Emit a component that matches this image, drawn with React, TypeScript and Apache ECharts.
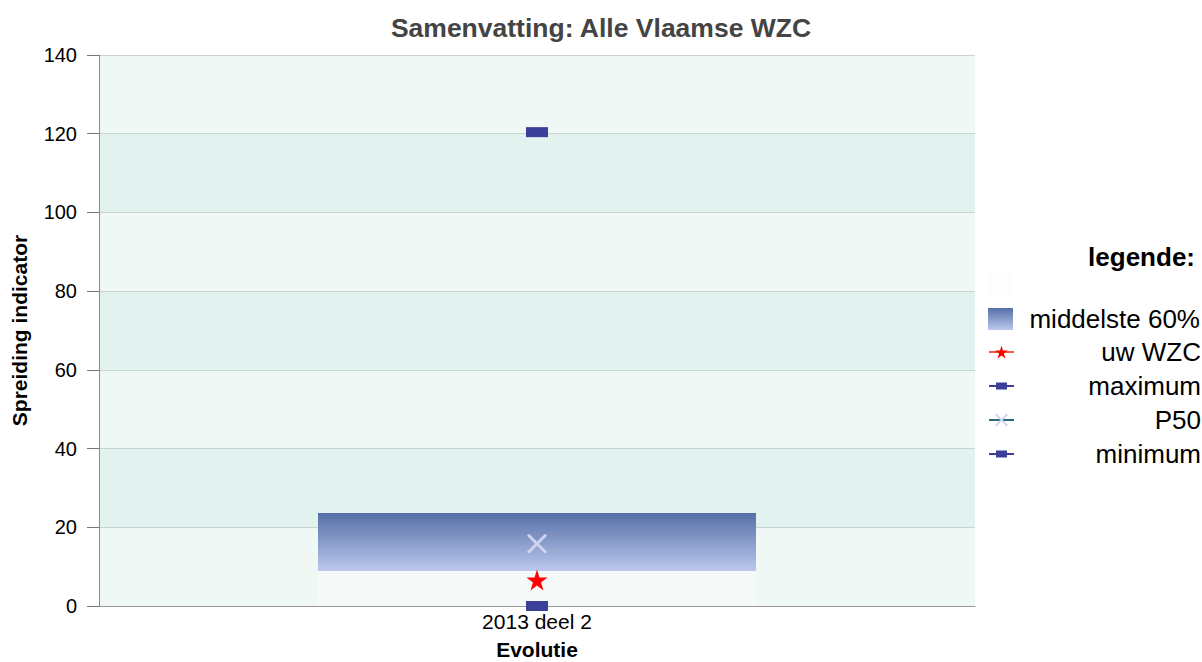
import React, { useEffect, useRef } from "react";
import * as echarts from "echarts";

const categories = ["2013 deel 2"];
const p20 = [8.9];
const p80 = [23.6];
const uwWZC = [6.6];
const maximum = [120.4];
const p50 = [15.8];
const minimum = [0];
const yTicks = { min: 0, max: 140, interval: 20 };

const FONT = "Liberation Sans, Arial, sans-serif";
const xPath = "path://M0,1L1,0L5,4L9,0L10,1L6,5L10,9L9,10L5,6L1,10L0,9L4,5Z";
const rectPath = "path://M0,0H22V10H0Z";
const rectLegendPath = "path://M0,2.5H25V4.5H0Z M7,0H18V7H7Z";
const starPath =
  "path://M50,0L61.8,36.2L100,36.2L69.1,58.8L80.9,95.1L50,72.7L19.1,95.1L30.9,58.8L0,36.2L38.2,36.2Z";

export default function App() {
  const ref = useRef<HTMLDivElement>(null);
  useEffect(() => {
    const chart = echarts.init(ref.current!, null, { renderer: "svg" });
    const mid = p80.map((v, i) => +(v - p20[i]).toFixed(2));
    const legendText = {
      color: "#000",
      fontFamily: FONT,
      rich: {
        a: { width: 182, align: "right", fontSize: 26, fontFamily: FONT, color: "#000" },
      },
    };
    chart.setOption({
      animation: false,
      textStyle: { fontFamily: FONT },
      title: [
        {
          text: "Samenvatting: Alle Vlaamse WZC",
          left: "center",
          top: 9,
          textStyle: { fontSize: 26.5, fontWeight: "bold", color: "#444", fontFamily: FONT },
        },
        {
          text: "legende:",
          right: 7,
          top: 244,
          padding: 0,
          textStyle: { fontSize: 26, fontWeight: "bold", color: "#000", fontFamily: FONT },
        },
      ],
      grid: { left: 99, right: 227, top: 55, bottom: 56, outerBoundsMode: "none", containLabel: false },
      legend: [
        {
          orient: "vertical",
          left: 988,
          top: 270,
          padding: 0,
          itemWidth: 25,
          itemHeight: 22,
          itemGap: 10,
          formatter: (n: string) => `{a|${n}}`,
          textStyle: legendText,
          data: [
            { name: " ", icon: "rect" },
            { name: "middelste 60%", icon: "rect" },
          ],
        },
        {
          orient: "vertical",
          left: 988,
          top: 339,
          padding: 0,
          itemWidth: 25,
          itemHeight: 16,
          itemGap: 8,
          symbolKeepAspect: true,
          formatter: (n: string) => `{a|${n}}`,
          textStyle: legendText,
          data: [
            "uw WZC",
            { name: "maximum", icon: rectLegendPath },
            "P50",
            { name: "minimum", icon: rectLegendPath },
          ],
        },
      ],
      xAxis: {
        type: "category",
        data: categories,
        name: "Evolutie",
        nameLocation: "middle",
        nameGap: 33,
        nameTextStyle: { fontSize: 21, fontWeight: "bold", color: "#000", fontFamily: FONT },
        axisLine: { lineStyle: { color: "#999" } },
        axisTick: { show: false },
        axisLabel: { fontSize: 21, color: "#000", margin: 5, fontFamily: FONT },
      },
      yAxis: {
        type: "value",
        min: yTicks.min,
        max: yTicks.max,
        interval: yTicks.interval,
        name: "Spreiding indicator",
        nameLocation: "middle",
        nameGap: 69,
        nameTextStyle: { fontSize: 21, fontWeight: "bold", color: "#000", fontFamily: FONT },
        axisLine: { show: true, lineStyle: { color: "#888" } },
        axisTick: { show: true, length: 12, lineStyle: { color: "#777" } },
        axisLabel: { fontSize: 20, color: "#000", margin: 22, fontFamily: FONT },
        splitLine: { show: true, lineStyle: { color: "#c9d3d1" } },
        splitArea: { show: true, areaStyle: { color: ["#f0f8f6", "#e1f2ef"] } },
      },
      series: [
        {
          name: " ",
          type: "bar",
          stack: "box",
          barWidth: "50%",
          data: p20,
          itemStyle: { color: "rgba(250,250,250,0.45)" },
        },
        {
          name: "middelste 60%",
          type: "bar",
          stack: "box",
          data: mid,
          itemStyle: {
            color: new echarts.graphic.LinearGradient(0, 0, 0, 1, [
              { offset: 0, color: "#5570a8" },
              { offset: 1, color: "#bcc8ec" },
            ]),
          },
        },
        {
          name: "uw WZC",
          type: "line",
          data: uwWZC,
          symbol: starPath,
          symbolSize: 21,
          itemStyle: { color: "#ff0000" },
          lineStyle: { color: "#e8603a", width: 2 },
          z: 5,
        },
        {
          name: "maximum",
          type: "line",
          data: maximum,
          symbol: rectPath,
          symbolSize: [22, 10],
          itemStyle: { color: "#3c3f9a" },
          lineStyle: { color: "#2c5f9e", width: 2 },
          z: 5,
        },
        {
          name: "P50",
          type: "line",
          data: p50,
          symbol: xPath,
          symbolSize: 20,
          itemStyle: { color: "#d2d4ee" },
          lineStyle: { color: "#2a6a80", width: 2 },
          z: 5,
        },
        {
          name: "minimum",
          type: "line",
          data: minimum,
          symbol: rectPath,
          symbolSize: [22, 10],
          itemStyle: { color: "#3c3f9a" },
          lineStyle: { color: "#1f4f9a", width: 2 },
          clip: false,
          z: 5,
        },
      ],
    });
    return () => chart.dispose();
  }, []);
  return <div ref={ref} style={{ width: 1202, height: 662, position: "absolute", left: 0, top: 0 }} />;
}
